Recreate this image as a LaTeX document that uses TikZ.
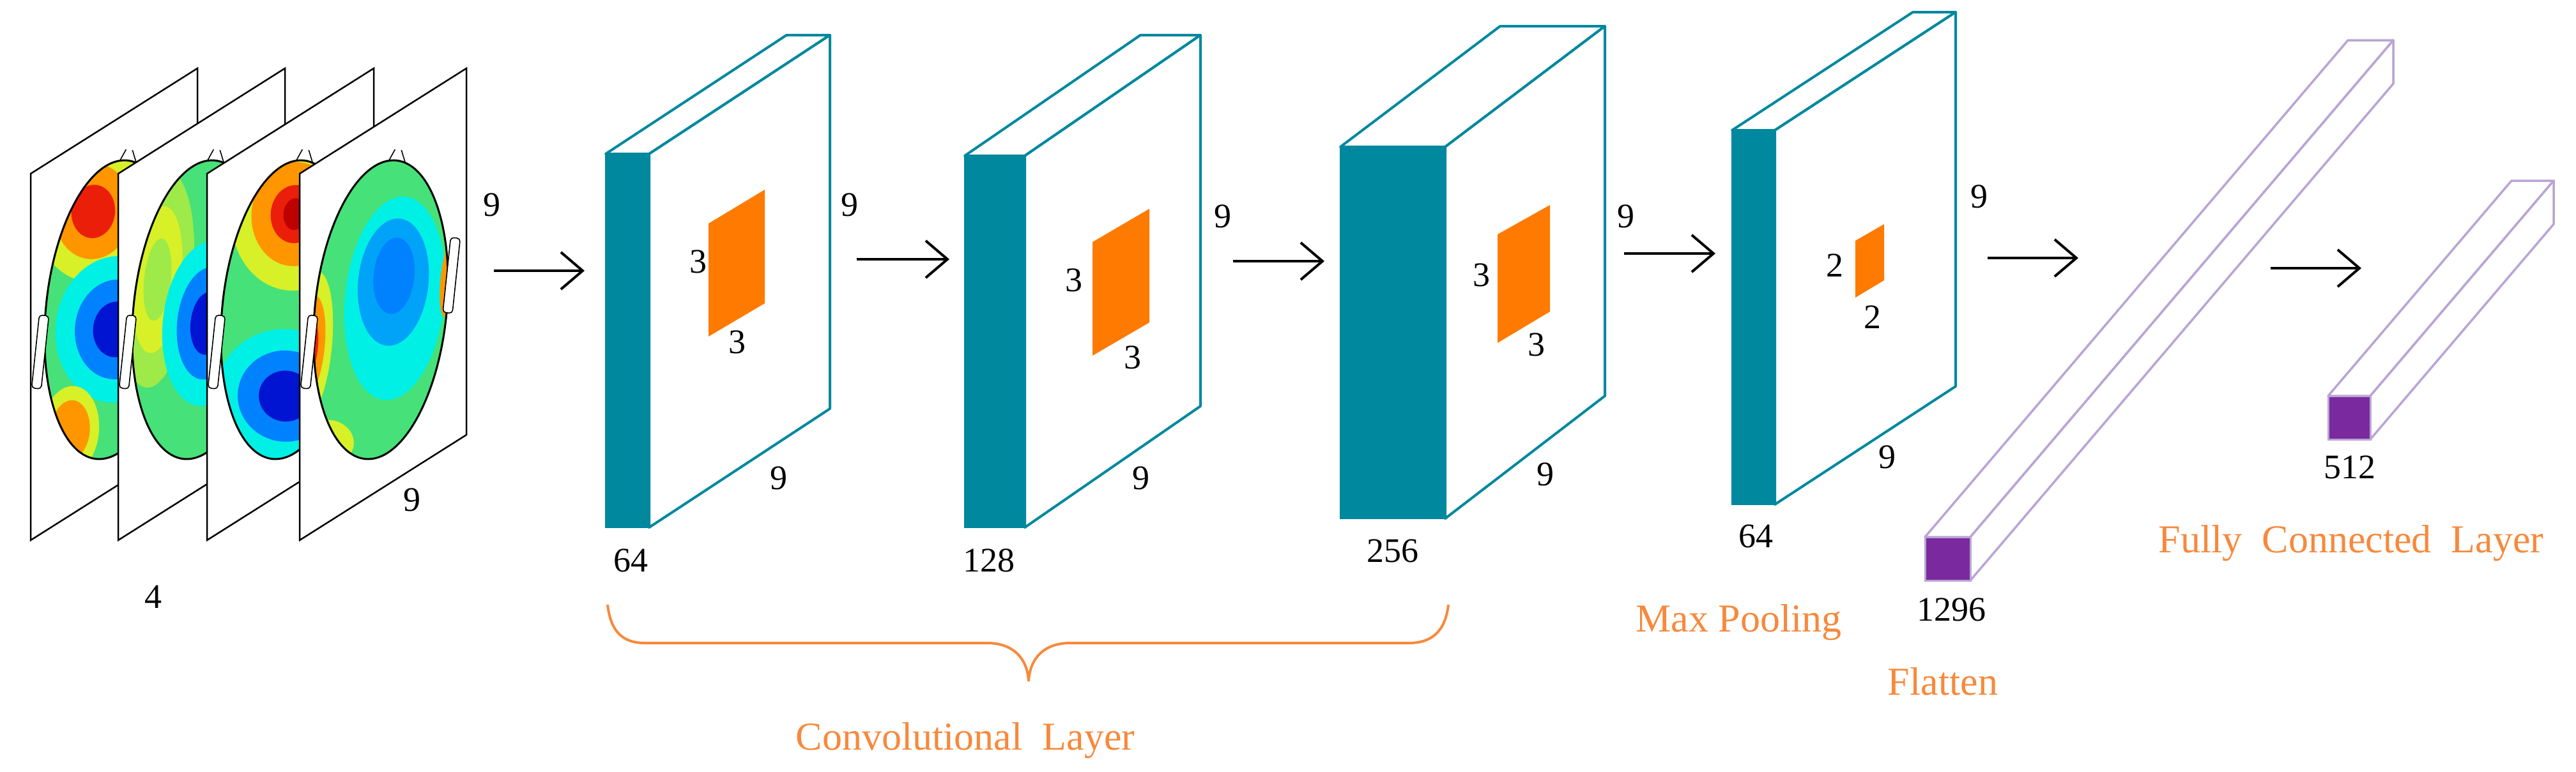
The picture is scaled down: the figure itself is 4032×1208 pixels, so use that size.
\documentclass[tikz,border=0pt]{standalone}
\usepackage{fontspec}
\setmainfont{Liberation Serif}
\newfontfamily\serf{Liberation Serif}
\usetikzlibrary{arrows.meta}
\definecolor{teal1}{RGB}{0,136,158}
\definecolor{orng}{RGB}{255,122,0}
\definecolor{otext}{RGB}{247,137,60}
\definecolor{purp}{RGB}{122,42,158}
\definecolor{lav}{RGB}{185,165,212}
\definecolor{hgreen}{RGB}{70,225,120}
\definecolor{hyel}{RGB}{215,240,40}
\definecolor{horange}{RGB}{255,150,0}
\definecolor{hred}{RGB}{235,30,10}
\definecolor{hdred}{RGB}{190,0,0}
\definecolor{hcyan}{RGB}{0,240,230}
\definecolor{hblue}{RGB}{0,130,255}
\definecolor{hdblue}{RGB}{0,20,210}
\newcommand\blobthree[7]{%
  \fill[#5] (#1,#2) ellipse[x radius=#3,y radius=#4];
  \fill[#6] (#1,#2) ellipse[x radius=0.68*#3,y radius=0.68*#4];
  \fill[#7] (#1,#2) ellipse[x radius=0.38*#3,y radius=0.38*#4];}
\newcommand\headshape[1]{%
  \begin{scope}[shift={(#1,485)},rotate=-6]
  \draw[line width=1.6pt,rounded corners=5pt,fill=white] (-112,20) rectangle (-97,135);
  \draw[line width=1.6pt,rounded corners=5pt,fill=white] (97,-124) rectangle (112,-6);
  \draw[line width=1.6pt] (-12,-233) -- (-4,-252) (6,-252) -- (14,-233);
  \end{scope}}
\tikzset{
  lbl/.style={font=\serf\fontsize{54}{60}\selectfont, inner sep=0pt},
  olbl/.style={font=\serf\fontsize{62}{70}\selectfont, text=otext, inner sep=0pt},
  tface/.style={draw=teal1, line width=4pt, fill=white, line join=round},
  tfront/.style={fill=teal1, draw=teal1, line width=2pt},
  patch/.style={fill=orng},
  pface/.style={draw=lav, line width=3.5pt, fill=white, line join=round},
  pfront/.style={fill=purp, draw=lav, line width=3pt},
  panel/.style={draw=black, line width=2.5pt, fill=white},
  arr/.style={line width=4pt, -{Straight Barb[length=34pt,width=58pt,line width=4pt]}}
}
\begin{document}
\begin{tikzpicture}[x=1pt,y=-1pt]
\useasboundingbox (0,0) rectangle (4032,1208);
\fill[white] (0,0) rectangle (4032,1208);

% ---------- EEG panels ----------
\draw[panel] (48,272) -- (309,107) -- (309,681) -- (48,846) -- cycle;
\begin{scope}
\clip[shift={(175,485)},rotate=-6] (0,0) ellipse[x radius=103,y radius=235];
\begin{scope}[shift={(175,485)},rotate=-6]
\fill[hgreen] (-120,-250) rectangle (120,250);
\blobthree{-45}{-150}{90}{110}{hyel}{horange}{hred}
\blobthree{10}{30}{95}{115}{hcyan}{hblue}{hdblue}
\blobthree{-45}{195}{45}{70}{hyel}{horange}{horange}
\end{scope}
\end{scope}
\draw[line width=3pt,rotate around={-6:(175,485)}] (175,485) ellipse[x radius=103,y radius=235];
\headshape{175}
\draw[panel] (185,272) -- (446,107) -- (446,681) -- (185,846) -- cycle;
\begin{scope}
\clip[shift={(312,485)},rotate=-6] (0,0) ellipse[x radius=103,y radius=235];
\begin{scope}[shift={(312,485)},rotate=-6]
\fill[hgreen] (-120,-250) rectangle (120,250);
\blobthree{-70}{-40}{55}{170}{hyel!60!hgreen}{hyel}{hyel!60!hgreen}
\blobthree{15}{20}{70}{130}{hcyan}{hblue}{hdblue}
\end{scope}
\end{scope}
\draw[line width=3pt,rotate around={-6:(312,485)}] (312,485) ellipse[x radius=103,y radius=235];
\headshape{312}
\draw[panel] (324,272) -- (585,107) -- (585,681) -- (324,846) -- cycle;
\begin{scope}
\clip[shift={(451,485)},rotate=-6] (0,0) ellipse[x radius=103,y radius=235];
\begin{scope}[shift={(451,485)},rotate=-6]
\fill[hgreen] (-120,-250) rectangle (120,250);
\blobthree{-5}{-150}{100}{120}{hyel}{horange}{hred}
\fill[hdred] (-5,-150) ellipse[x radius=18,y radius=25];
\blobthree{45}{-20}{30}{45}{hyel}{horange}{horange}
\blobthree{10}{135}{110}{105}{hcyan}{hblue}{hdblue}
\end{scope}
\end{scope}
\draw[line width=3pt,rotate around={-6:(451,485)}] (451,485) ellipse[x radius=103,y radius=235];
\headshape{451}
\draw[panel] (469,272) -- (730,107) -- (730,681) -- (469,846) -- cycle;
\begin{scope}
\clip[shift={(596,485)},rotate=-6] (0,0) ellipse[x radius=103,y radius=235];
\begin{scope}[shift={(596,485)},rotate=-6]
\fill[hgreen] (-120,-250) rectangle (120,250);
\fill[hcyan] (20,-20) ellipse[x radius=78,y radius=160];
\fill[hblue!70!hcyan] (15,-45) ellipse[x radius=55,y radius=100];
\fill[hblue] (15,-55) ellipse[x radius=32,y radius=60];
\blobthree{-105}{70}{35}{120}{hyel}{horange}{hred}
\fill[hyel] (-60,215) ellipse[x radius=40,y radius=35];
\fill[horange] (100,-60) ellipse[x radius=12,y radius=60];
\end{scope}
\end{scope}
\draw[line width=3pt,rotate around={-6:(596,485)}] (596,485) ellipse[x radius=103,y radius=235];
\headshape{596}
\node[lbl] (in9a) at (770,321) {9};
\node[lbl] (in9b) at (645,783) {9};
\node[lbl] (in4) at (240,935) {4};

% ---------- Conv box 1 ----------
\draw[tface] (948,241) -- (1231,55) -- (1299,55) -- (1016,241) -- cycle;
\draw[tface] (1016,241) -- (1299,55) -- (1299,640) -- (1016,826) -- cycle;
\fill[tfront] (948,241) rectangle (1016,826);
\fill[patch] (1109,350) -- (1197,297) -- (1197,475) -- (1109,527) -- cycle;
\node[lbl] (b1k1) at (1093,410) {3};
\node[lbl] (b1k2) at (1154,536) {3};
\node[lbl] (b1h) at (1330,321) {9};
\node[lbl] (b1w) at (1219,749) {9};
\node[lbl] (b1c) at (987,878) {64};

% ---------- Conv box 2 ----------
\draw[tface] (1510,244) -- (1785,55) -- (1879,55) -- (1604,244) -- cycle;
\draw[tface] (1604,244) -- (1879,55) -- (1879,636) -- (1604,826) -- cycle;
\fill[tfront] (1510,244) rectangle (1604,826);
\fill[patch] (1710,379) -- (1799,327) -- (1799,505) -- (1710,557) -- cycle;
\node[lbl] (b2k1) at (1681,439) {3};
\node[lbl] (b2k2) at (1773,560) {3};
\node[lbl] (b2h) at (1914,339) {9};
\node[lbl] (b2w) at (1786,749) {9};
\node[lbl] (b2c) at (1548,878) {128};

% ---------- Conv box 3 ----------
\draw[tface] (2098,230) -- (2348,41) -- (2512,41) -- (2262,230) -- cycle;
\draw[tface] (2262,230) -- (2512,41) -- (2512,620) -- (2262,812) -- cycle;
\fill[tfront] (2098,230) rectangle (2262,812);
\fill[patch] (2344,367) -- (2426,321) -- (2426,488) -- (2344,537) -- cycle;
\node[lbl] (b3k1) at (2319,431) {3};
\node[lbl] (b3k2) at (2405,540) {3};
\node[lbl] (b3h) at (2545,339) {9};
\node[lbl] (b3w) at (2419,743) {9};
\node[lbl] (b3c) at (2180,863) {256};

% ---------- Max pool box ----------
\draw[tface] (2711,204) -- (2994,19) -- (3061,19) -- (2778,204) -- cycle;
\draw[tface] (2778,204) -- (3061,19) -- (3061,605) -- (2778,790) -- cycle;
\fill[tfront] (2711,204) rectangle (2778,790);
\fill[patch] (2904,377) -- (2949,351) -- (2949,439) -- (2904,466) -- cycle;
\node[lbl] (b4k1) at (2872,416) {2};
\node[lbl] (b4k2) at (2931,497) {2};
\node[lbl] (b4h) at (3098,308) {9};
\node[lbl] (b4w) at (2954,716) {9};
\node[lbl] (b4c) at (2748,840) {64};

% ---------- Flatten bar ----------
\draw[pface] (3013,841) -- (3675,63) -- (3746,63) -- (3084,841) -- cycle;
\draw[pface] (3084,841) -- (3746,63) -- (3746,131) -- (3084,909) -- cycle;
\draw[pfront] (3013,841) rectangle (3084,909);
\node[lbl] (fl) at (3054,955) {1296};

% ---------- FC bar ----------
\draw[pface] (3644,620) -- (3931,283) -- (3997,283) -- (3710,620) -- cycle;
\draw[pface] (3710,620) -- (3997,283) -- (3997,351) -- (3710,688) -- cycle;
\draw[pfront] (3644,620) rectangle (3710,688);
\node[lbl] (fc) at (3678,732) {512};

% ---------- arrows ----------
\coordinate (a0s) at (773,424); \coordinate (a0e) at (915,424);
\coordinate (a1s) at (1341,406); \coordinate (a1e) at (1486,406);
\coordinate (a2s) at (1930,409); \coordinate (a2e) at (2073,409);
\coordinate (a3s) at (2542,397); \coordinate (a3e) at (2685,397);
\coordinate (a4s) at (3111,404); \coordinate (a4e) at (3253,404);
\coordinate (a5s) at (3554,420); \coordinate (a5e) at (3696,420);
\foreach \i in {0,...,5} {\draw[arr] (a\i s) -- (a\i e);}

% ---------- brace and captions ----------
\draw[otext, line width=4pt] (951,947) .. controls (956,990) and (975,1007) .. (1010,1007)
  -- (1545,1007) .. controls (1585,1007) and (1608,1030) .. (1610,1067)
  .. controls (1612,1030) and (1635,1007) .. (1675,1007)
  -- (2205,1007) .. controls (2240,1007) and (2262,990) .. (2267,947);
\node[olbl] (convl) at (1511,1160) {Convolutional\ \ Layer};
\node[olbl, anchor=east] (maxp) at (2883,975) {Max Pooling};
\node[olbl] (flat) at (3041,1067) {Flatten};
\node[olbl] (fcl) at (3680,851) {Fully\ \ Connected\ \ Layer};
\end{tikzpicture}
\end{document}
